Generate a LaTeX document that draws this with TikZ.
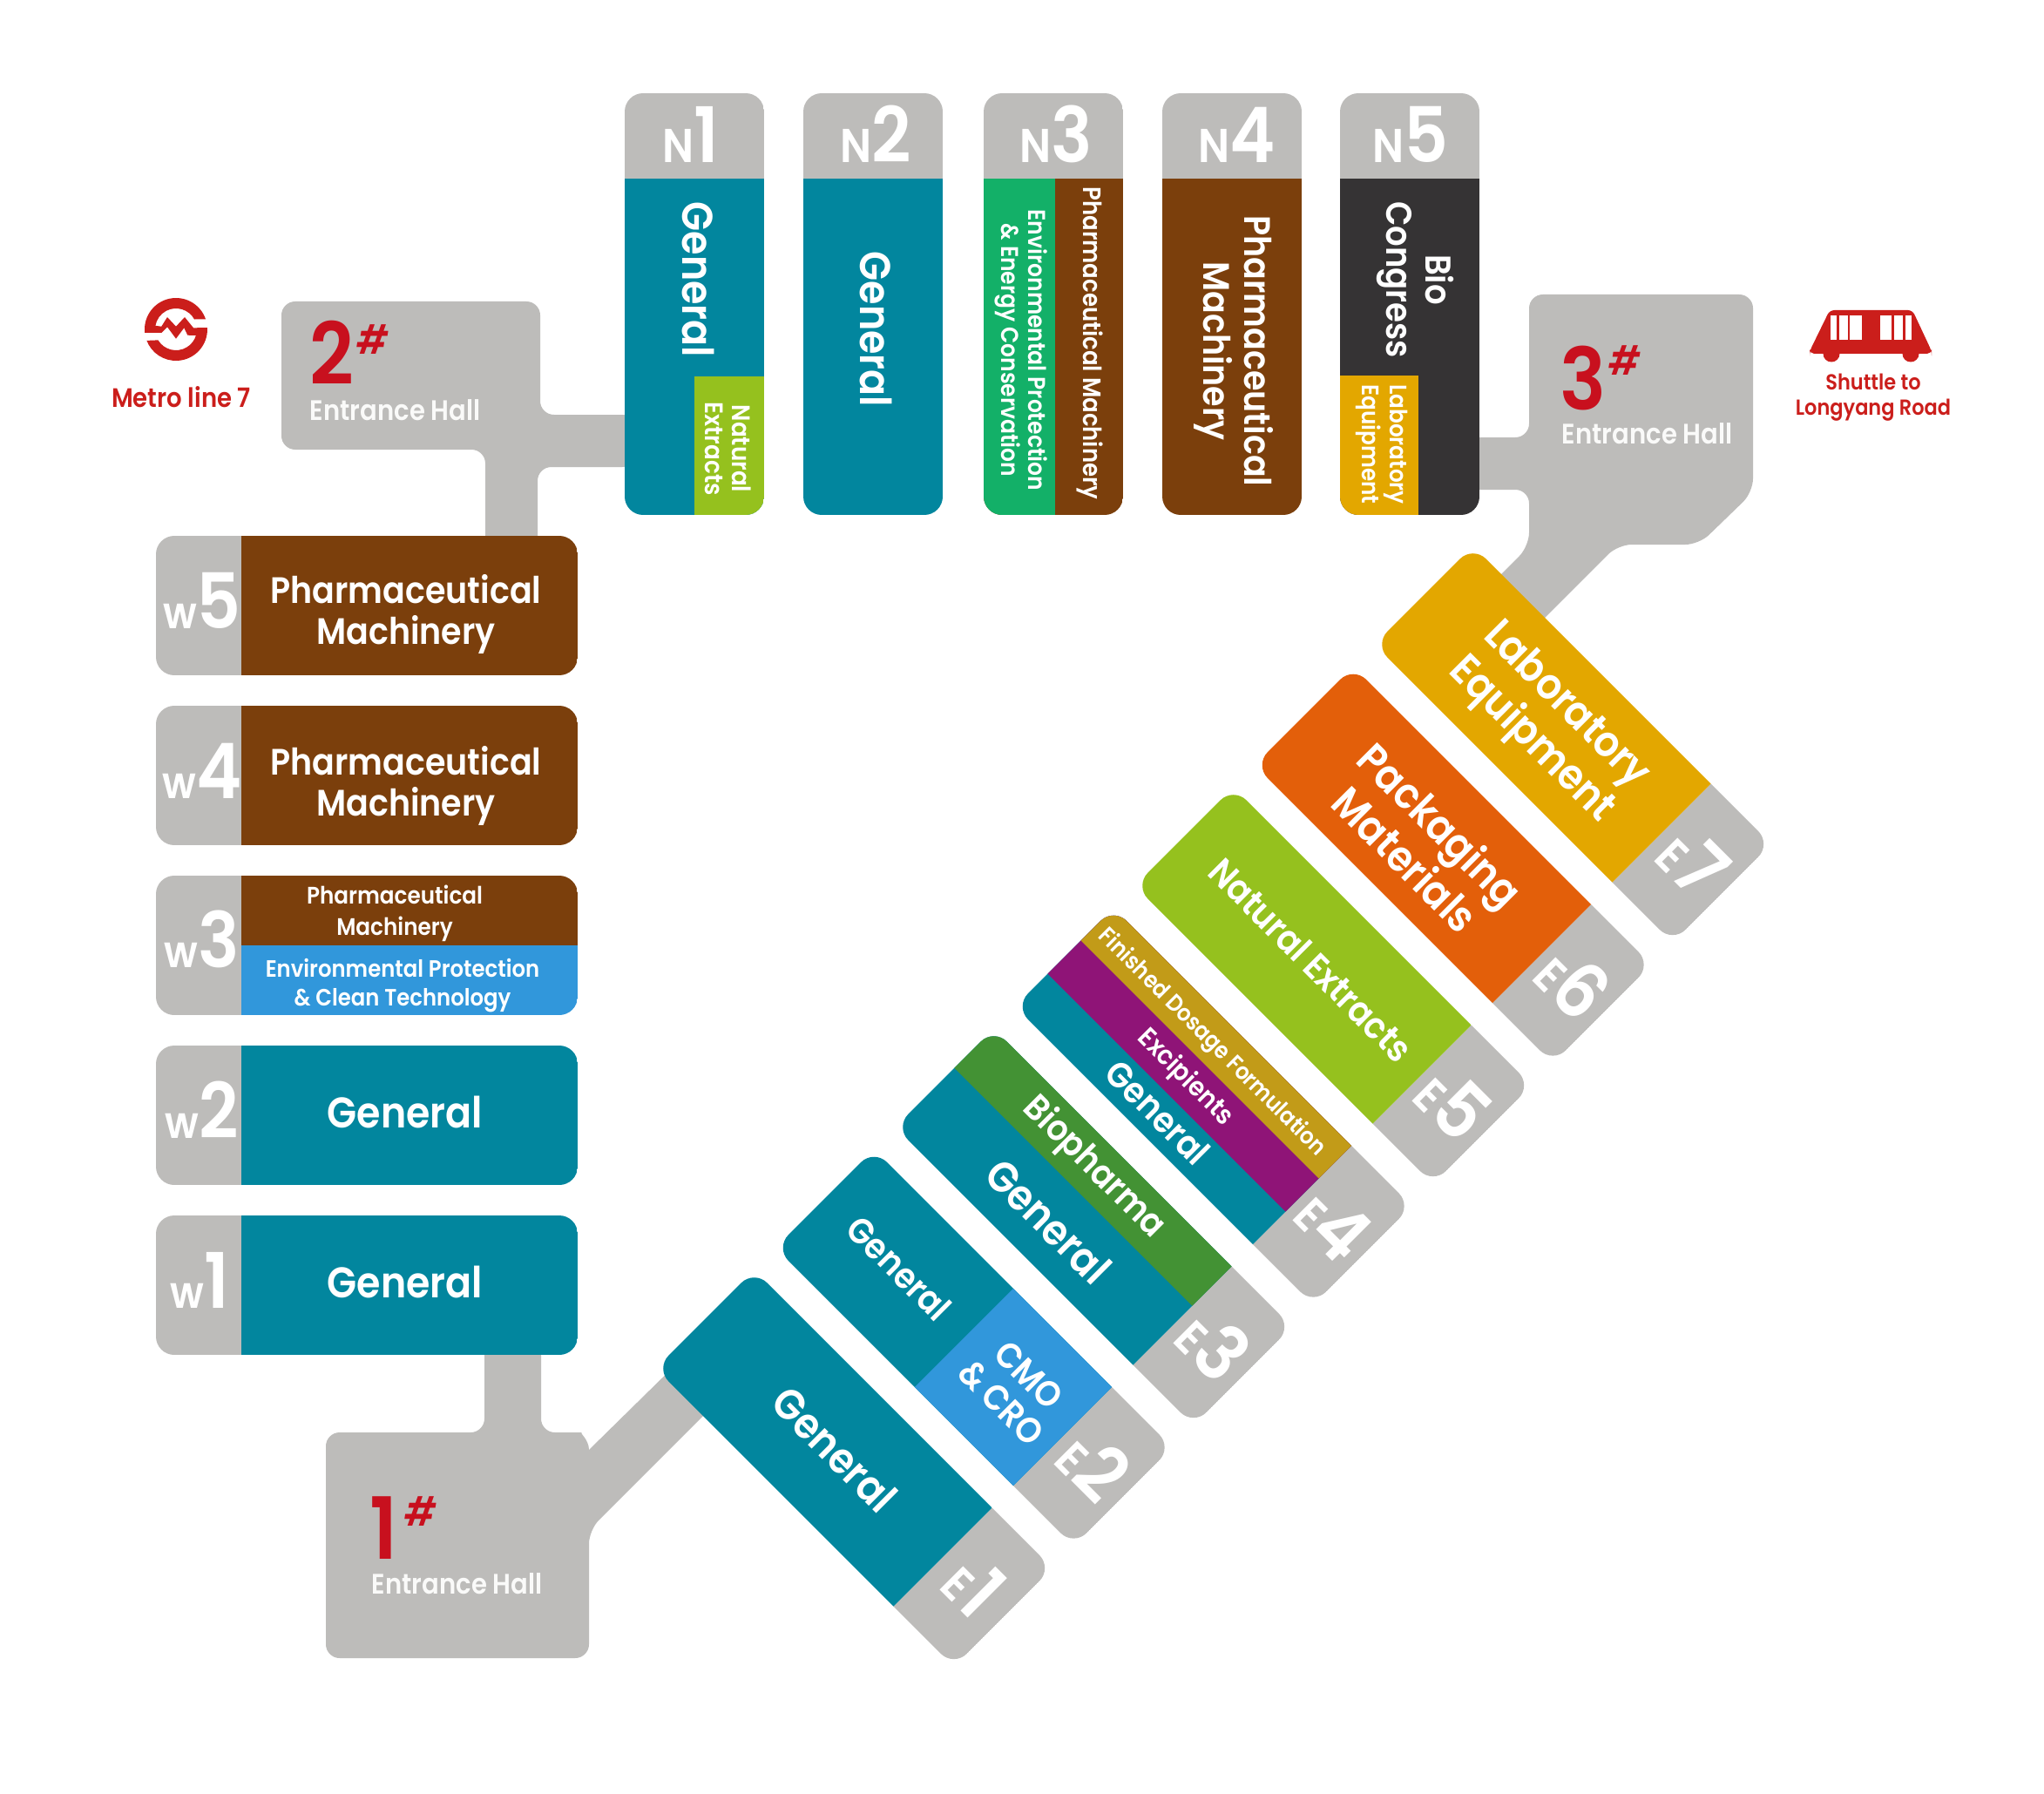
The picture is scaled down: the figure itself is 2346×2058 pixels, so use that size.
\documentclass[tikz,border=0pt]{standalone}
\usepackage{fontspec}
\setmainfont{Poppins}[BoldFont=Poppins SemiBold, FakeStretch=0.9]
\usetikzlibrary{positioning}
\definecolor{hallgray}{HTML}{BDBCBA}
\definecolor{general}{HTML}{02869E}
\definecolor{extracts}{HTML}{95C11E}
\definecolor{machinery}{HTML}{7B3F0C}
\definecolor{congress}{HTML}{353334}
\definecolor{energy}{HTML}{13B068}
\definecolor{labgold}{HTML}{E3A700}
\definecolor{packaging}{HTML}{E35F0A}
\definecolor{cleanblue}{HTML}{3197DB}
\definecolor{biopharma}{HTML}{439234}
\definecolor{dosage}{HTML}{C29B18}
\definecolor{excipient}{HTML}{8F1477}
\definecolor{hallred}{HTML}{C8101E}
\definecolor{signred}{HTML}{CB1E1B}
\newcommand{\fsz}[2]{\bfseries\fontsize{#1}{#2}\selectfont}
\tikzset{hall/.style={fill=hallgray, rounded corners=4.5pt}}
\tikzset{lbl/.style={text=white, align=center, inner sep=0pt, font=\fsz{14}{15}}}
\tikzset{machlbl/.style={lbl, font=\fsz{12}{13.4}}}
\tikzset{midlbl/.style={lbl, font=\fsz{11.7}{12.8}}}
\tikzset{smalllbl/.style={lbl, font=\fsz{7.9}{8.9}}}
\tikzset{hallno/.style={anchor=base west, inner sep=0pt, text=hallred, font=\fsz{28}{28}}}
\tikzset{hallhash/.style={inner sep=0pt, text=hallred, font=\fsz{13}{13}\itshape}}
\tikzset{halltxt/.style={anchor=west, inner sep=0pt, text=white!92!hallgray, font=\fsz{9.2}{9.2}}}
\tikzset{signtxt/.style={inner sep=0pt, text=signred, align=center, font=\fsz{8.7}{9.5}}}
\newcommand{\standno}[2]{\fontsize{15.5}{15.5}\selectfont #1\fontsize{25}{25}\selectfont #2}
\newcommand{\wingno}[1]{\fontsize{14.5}{14.5}\selectfont w\fontsize{25}{25}\selectfont #1}
\newcommand{\stand}[3]{%
  \begin{scope}[shift={#1}, rotate=#2]
    \clip[rounded corners=6pt] (-386,-80) rectangle (98,80);
    \fill[hallgray] (0,-80) rectangle (98,80);
    #3
  \end{scope}}
\begin{document}
\begin{tikzpicture}[x=0.01cm, y=-0.01cm]
  \path[use as bounding box, fill=white] (0,0) rectangle (2346,2058);

  \fill[hall] (323,346) -- (620,346) -- (620,476) -- (730,476) -- (730,536) -- (617,536)
    -- (617,640) -- (557,640) -- (557,516) -- (323,516) -- cycle;
  \fill[hall] (1755,338) -- (2012,338) -- (2012,565) -- (1950,625) -- (1857,625)
    -- (1740,742) -- (1690,692) -- (1755,627) -- (1755,562) -- (1680,562)
    -- (1680,502) -- (1755,502) -- cycle;
  \fill[hall] (374,1644) -- (556,1644) -- (556,1530) -- (621,1530) -- (621,1644)
    -- (652,1644) [sharp corners] to[out=0, in=90] (676,1664) -- (790,1552) -- (850,1582)
    [rounded corners=4.5pt] -- (676,1756) -- (676,1903) -- (374,1903) -- cycle;

  \stand{(797,205)}{90}{
    \fill[general] (-386,-80) rectangle (0,80);
    \fill[extracts] (-386,0) rectangle (-227,80);
  }
  \stand{(1002,205)}{90}{\fill[general] (-386,-80) rectangle (0,80);}
  \stand{(1209,205)}{90}{
    \fill[machinery] (-386,-80) rectangle (0,80);
    \fill[energy] (-386,-80) rectangle (0,2);
  }
  \stand{(1414,205)}{90}{\fill[machinery] (-386,-80) rectangle (0,80);}
  \stand{(1618,205)}{90}{
    \fill[congress] (-386,-80) rectangle (0,80);
    \fill[labgold] (-386,-80) rectangle (-226,10);
  }

  \stand{(277,695)}{180}{\fill[machinery] (-386,-80) rectangle (0,80);}
  \stand{(277,890)}{180}{\fill[machinery] (-386,-80) rectangle (0,80);}
  \stand{(277,1085)}{180}{
    \fill[cleanblue] (-386,-80) rectangle (0,0);
    \fill[machinery] (-386,0) rectangle (0,80);
  }
  \stand{(277,1280)}{180}{\fill[general] (-386,-80) rectangle (0,80);}
  \stand{(277,1475)}{180}{\fill[general] (-386,-80) rectangle (0,80);}

  \stand{(1082,1787)}{-45}{
    \fill[general] (-386,-80) rectangle (0,80);
    \node[lbl, rotate=-45] (e1gen) at (-175,0) {General};
    \node[lbl, rotate=-45] (E1) at (49,-3) {\standno{E}{1}};
  }
  \stand{(1219.5,1648.5)}{-45}{
    \fill[general] (-386,-80) rectangle (0,80);
    \fill[cleanblue] (-160,-80) rectangle (0,80);
    \node[midlbl, rotate=-45] (e2gen) at (-269,-4) {General};
    \node[midlbl, rotate=-45] (e2cmo) at (-77,0) {CMO\\\& CRO};
    \node[lbl, rotate=-45] (E2) at (49,-3) {\standno{E}{2}};
  }
  \stand{(1357,1510)}{-45}{
    \fill[general] (-386,-80) rectangle (0,80);
    \fill[biopharma] (-386,-80) rectangle (0,-16);
    \node[midlbl, rotate=-45] (e3bio) at (-192,-48) {Biopharma};
    \node[lbl, rotate=-45] (e3gen) at (-185,32) {General};
    \node[lbl, rotate=-45] (E3) at (49,-3) {\standno{E}{3}};
  }
  \stand{(1494.5,1371.5)}{-45}{
    \fill[general] (-386,-80) rectangle (0,80);
    \fill[excipient] (-386,-80) rectangle (0,27);
    \fill[dosage] (-386,-80) rectangle (0,-27);
    \node[lbl, font=\fsz{7.6}{8}, rotate=-45] (e4fin) at (-197,-50) {Finished Dosage Formulation};
    \node[lbl, font=\fsz{8.7}{9}, rotate=-45] (e4exc) at (-190,0) {Excipients};
    \node[midlbl, rotate=-45] (e4gen) at (-184,50) {General};
    \node[lbl, rotate=-45] (E4) at (49,-3) {\standno{E}{4}};
  }
  \stand{(1632,1233)}{-45}{
    \fill[extracts] (-386,-80) rectangle (0,80);
    \node[machlbl, rotate=-45] (e5nat) at (-183,-3) {Natural Extracts};
    \node[lbl, rotate=-45] (E5) at (49,-3) {\standno{E}{5}};
  }
  \stand{(1769.5,1094.5)}{-45}{
    \fill[packaging] (-386,-80) rectangle (0,80);
    \node[lbl, font=\fsz{14}{16}, rotate=-45] (e6pac) at (-187,5) {Packaging\\Materials};
    \node[lbl, rotate=-45] (E6) at (49,-3) {\standno{E}{6}};
  }
  \stand{(1907,956)}{-45}{
    \fill[labgold] (-386,-80) rectangle (0,80);
    \node[lbl, font=\fsz{14}{16}, rotate=-45] (e7lab) at (-181,3) {Laboratory\\Equipment};
    \node[lbl, rotate=-45] (E7) at (49,-3) {\standno{E}{7}};
  }

  \node[lbl, anchor=base] (N1no) at (793,187) {\standno{N}{1}};
  \node[lbl, anchor=base] (N2no) at (1005,187) {\standno{N}{2}};
  \node[lbl, anchor=base] (N3no) at (1212,187) {\standno{N}{3}};
  \node[lbl, anchor=base] (N4no) at (1420,187) {\standno{N}{4}};
  \node[lbl, anchor=base] (N5no) at (1619,187) {\standno{N}{5}};

  \node[lbl, rotate=-90] (n1gen) at (801,321) {General};
  \node[lbl, font=\fsz{8.3}{8.9}, rotate=-90] (n1nat) at (836,515) {Natural\\Extracts};
  \node[lbl, rotate=-90] (n2gen) at (1005,378) {General};
  \node[lbl, font=\fsz{8.2}{8.9}, rotate=-90] (n3mac) at (1251,394) {Pharmaceutical Machinery};
  \node[smalllbl, rotate=-90] (n3env) at (1172,402) {Environmental Protection\\\& Energy Conservation};
  \node[machlbl, rotate=-90] (n4mac) at (1416,403) {Pharmaceutical\\Machinery};
  \node[midlbl, rotate=-90] (n5bio) at (1624,321) {Bio\\Congress};
  \node[lbl, font=\fsz{7.8}{8.9}, rotate=-90] (n5lab) at (1586,510) {Laboratory\\Equipment};

  \node[lbl, anchor=base] (W5no) at (232,721) {\wingno{5}};
  \node[lbl, anchor=base] (W4no) at (232,916) {\wingno{4}};
  \node[lbl, anchor=base] (W3no) at (232,1110) {\wingno{3}};
  \node[lbl, anchor=base] (W2no) at (232,1306) {\wingno{2}};
  \node[lbl, anchor=base] (W1no) at (229,1501) {\wingno{1}};

  \node[machlbl] (w5mac) at (466,705) {Pharmaceutical\\Machinery};
  \node[machlbl] (w4mac) at (466,902) {Pharmaceutical\\Machinery};
  \node[lbl, font=\fsz{7.8}{10.2}] (w3mac) at (453,1048) {Pharmaceutical\\Machinery};
  \node[lbl, font=\fsz{7.7}{9.4}] (w3env) at (462,1131) {Environmental Protection\\\& Clean Technology};
  \node[lbl] (w2gen) at (465,1276) {General};
  \node[lbl] (w1gen) at (465,1471) {General};

  \node[hallno] (hall2no) at (355,442) {2};
  \node[hallhash] (hall2hash) at (428,390) {\#};
  \node[halltxt] (hall2txt) at (355,471) {Entrance Hall};
  \node[hallno] (hall3no) at (1790,470) {3};
  \node[hallhash] (hall3hash) at (1865,414) {\#};
  \node[halltxt] (hall3txt) at (1792,498) {Entrance Hall};
  \node[hallno] (hall1no) at (424,1789) {1};
  \node[hallhash] (hall1hash) at (483,1735) {\#};
  \node[halltxt] (hall1txt) at (426,1818) {Entrance Hall};

  \begin{scope}[shift={(202,378)}, y=0.01cm]
    \fill[signred] (186:36) arc (186:19:36) -- (21.7,11.7) -- (28:24) arc (28:170:24)
      -- (-16.7,3.3) -- (-10,14) -- (0,3.3) -- (10,14) -- (20,1.7) -- (3:36)
      arc (3:-159:36) -- (-149:24) arc (-149:-17:24) -- (13.3,-6.7) -- (9.3,1.7)
      -- (0,-10.7) -- (-10,2.7) -- (-16.7,-4) -- cycle;
  \end{scope}
  \node[signtxt] (metro) at (208,456) {Metro line 7};

  \fill[signred, rounded corners=1.5pt] (2100,356) -- (2195,356) -- (2217,403) -- (2217,406)
    -- (2077,406) -- (2077,403) -- cycle;
  \fill[signred] (2102,406) circle (9.5);
  \fill[signred] (2193,406) circle (9.5);
  \fill[white] (2101,362) rectangle (2108,390);
  \fill[white] (2111,362) rectangle (2121,390);
  \fill[white] (2123,362) rectangle (2137,390);
  \fill[white] (2158,362) rectangle (2171,390);
  \fill[white] (2174,362) rectangle (2184,390);
  \fill[white] (2187,362) rectangle (2194,390);
  \node[signtxt, font=\fsz{7.1}{8.2}] (shuttle) at (2150,456) {Shuttle to\\Longyang Road};
\end{tikzpicture}
\end{document}
